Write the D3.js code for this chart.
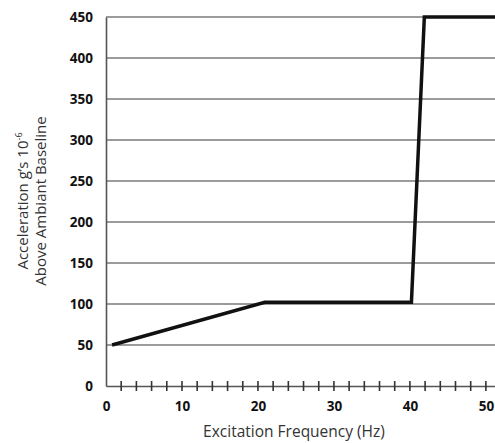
<!DOCTYPE html>
<html>
<head>
<meta charset="utf-8">
<script src="https://cdn.jsdelivr.net/npm/d3@7"></script>
<style>
  body { margin: 0; background: #fff; }
  svg { display: block; }
</style>
</head>
<body>
<div id="chart"></div>
<script>
// values
const freq = [0.8, 20.9, 40.2, 41.9, 52];
const accel = [50, 102, 102, 450, 450];
const yTicks = [0, 50, 100, 150, 200, 250, 300, 350, 400, 450];
const xTicks = [0, 10, 20, 30, 40, 50];
const xMinorTicks = d3.range(2, 52, 2);

const W = 495, H = 443;
const margin = { top: 17, right: 0, bottom: 57, left: 106 };

const svg = d3.select("#chart").append("svg")
  .attr("width", W).attr("height", H);

// 7.6px per Hz -> plot runs off the right edge a bit past 50
const x = d3.scaleLinear().domain([0, 51.2]).range([margin.left, W]);
const y = d3.scaleLinear().domain([0, 450]).range([H - margin.bottom, margin.top]);

// grid lines
svg.append("g")
  .selectAll("line")
  .data(yTicks.filter(d => d > 0))
  .enter().append("line")
  .attr("x1", x(0)).attr("x2", W)
  .attr("y1", d => y(d)).attr("y2", d => y(d))
  .attr("stroke", "#7a7a7a")
  .attr("stroke-width", 1.4);

// y axis
const yAxis = svg.append("g")
  .attr("transform", "translate(" + x(0) + ",0)")
  .call(d3.axisLeft(y).tickValues(yTicks).tickSize(0).tickPadding(13));
yAxis.select(".domain").attr("stroke", "#555").attr("stroke-width", 1.6);
yAxis.selectAll("text")
  .attr("font-family", "Open Sans, sans-serif")
  .attr("font-weight", "bold")
  .attr("font-size", 13.5)
  .attr("fill", "#111");

// x axis
const xAxis = svg.append("g")
  .attr("transform", "translate(0," + y(0) + ")")
  .call(d3.axisBottom(x).tickValues(xTicks).tickSize(0).tickPadding(15));
xAxis.select(".domain").attr("stroke", "#555").attr("stroke-width", 1.6);
xAxis.selectAll("text")
  .attr("font-family", "Open Sans, sans-serif")
  .attr("font-weight", "bold")
  .attr("font-size", 13.5)
  .attr("fill", "#111");

// small crossing ticks every 2 Hz
svg.append("g")
  .selectAll("line")
  .data(xMinorTicks)
  .enter().append("line")
  .attr("x1", d => x(d)).attr("x2", d => x(d))
  .attr("y1", y(0) - 5).attr("y2", y(0) + 5)
  .attr("stroke", "#333")
  .attr("stroke-width", 1.6);

// data line
const line = d3.line()
  .x((d, i) => x(freq[i]))
  .y(d => y(d));

svg.append("path")
  .datum(accel)
  .attr("d", line)
  .attr("fill", "none")
  .attr("stroke", "#111")
  .attr("stroke-width", 3.5)
  .attr("stroke-linejoin", "miter");

// x title
svg.append("text")
  .attr("x", 294).attr("y", 437)
  .attr("text-anchor", "middle")
  .attr("font-family", "Open Sans, sans-serif")
  .attr("font-size", 15.5)
  .attr("fill", "#333")
  .text("Excitation Frequency (Hz)");

// y title, two lines
function yTitle(bx) {
  return svg.append("text")
    .attr("transform", "translate(" + bx + ",201) rotate(-90)")
    .attr("text-anchor", "middle")
    .attr("font-family", "Open Sans, sans-serif")
    .attr("font-size", 15)
    .attr("fill", "#333");
}
const l1 = yTitle(28);
l1.append("tspan").text("Acceleration g\u2019s 10");
l1.append("tspan").attr("dy", -6).attr("font-size", 9).text("-6");
yTitle(46).text("Above Ambiant Baseline");
</script>
</body>
</html>
